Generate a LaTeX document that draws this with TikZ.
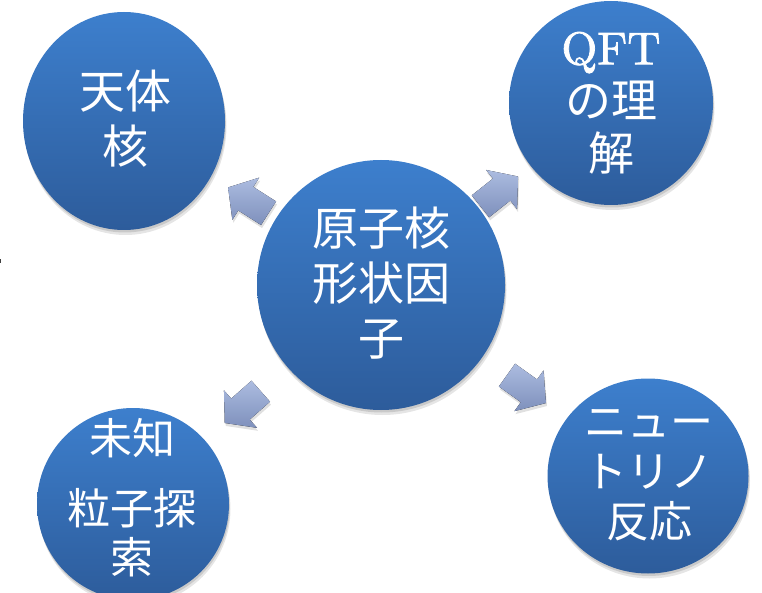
\documentclass[tikz,border=0pt]{standalone}
\usepackage{fontspec}
\newfontfamily\cjk{Noto Sans CJK JP}
\newfontfamily\qftfont{lmroman10-regular.otf}[FakeBold=1.6]
\usetikzlibrary{shapes.geometric,calc,shadows}
\definecolor{ctop}{RGB}{61,127,205}
\definecolor{cbot}{RGB}{45,92,155}
\definecolor{atop}{RGB}{172,188,224}
\definecolor{abot}{RGB}{126,144,188}
\newcommand\blockarr[4]{% from, to, fraction, prefix
  \coordinate (#4tip) at ($(#1)!#3!(#2)$);
  \coordinate (#4hb) at ($(#4tip)!21pt!(#1)$);
  \coordinate (#4tb) at ($(#4tip)!48pt!(#1)$);
  \fill[blockarrow] (#4tip) -- ($(#4hb)!25pt!90:(#1)$) -- ($(#4hb)!14pt!90:(#1)$)
     -- ($(#4tb)!14pt!90:(#1)$) -- ($(#4tb)!14pt!-90:(#1)$)
     -- ($(#4hb)!14pt!-90:(#1)$) -- ($(#4hb)!25pt!-90:(#1)$) -- cycle;
}
\begin{document}
\begin{tikzpicture}[x=1pt,y=-1pt,
  bubble/.style={ellipse, inner sep=0pt, draw=none, top color=ctop, bottom color=cbot,
    drop shadow={shadow xshift=1.5pt, shadow yshift=-5pt, opacity=.10, fill=black},
    drop shadow={shadow xshift=0.8pt, shadow yshift=-2.5pt, opacity=.12, fill=black}},
  txt/.style={text=white, align=center, inner sep=0pt},
  bigtxt/.style={font=\cjk\fontsize{46}{55}\selectfont},
  midtxt/.style={font=\cjk\fontsize{46}{53}\selectfont},
  smalltxt/.style={font=\cjk\fontsize{43}{49}\selectfont},
  brtxt/.style={font=\cjk\fontsize{43}{50}\selectfont},
  blockarrow/.style={draw=none, top color=atop, bottom color=abot,
    drop shadow={shadow xshift=1pt, shadow yshift=-3pt, opacity=.12, fill=black}}
]
\useasboundingbox (0,0) rectangle (762,593);
\clip (0,0) rectangle (762,593);

% bubbles
\node[bubble, minimum width=248pt, minimum height=250pt] (c)  at (381,285) {};
\node[bubble, minimum width=202pt, minimum height=218pt] (tl) at (124,121) {};
\node[bubble, minimum width=204pt, minimum height=204pt] (tr) at (611,103) {};
\node[bubble, minimum width=192pt, minimum height=192pt] (bl) at (133,504) {};
\node[bubble, minimum width=201pt, minimum height=195pt] (br) at (648,476) {};

% texts
\node[txt, bigtxt]   (ct)  at (381,283) {原子核\\形状因\\子};
\node[txt, bigtxt]   (tlt) at (125,119) {天体\\核};
\node[txt, midtxt]   (trt) at (611,103) {{\qftfont QFT}\\の理\\解};
\node[txt, smalltxt] (blt) at (132,498) {未知\\[21pt]粒子探\\索};
\node[txt, brtxt]    (brt) at (649,475) {ニュー\\トリノ\\反応};

% block arrows
\blockarr{c}{tl}{0.595}{a1}
\blockarr{c}{tr}{0.596}{a2}
\blockarr{c}{bl}{0.63}{a3}
\blockarr{c}{br}{0.618}{a4}

% small mark at left edge
\fill[black!75] (0,259.5) rectangle (1.2,263.5);
\end{tikzpicture}
\end{document}
